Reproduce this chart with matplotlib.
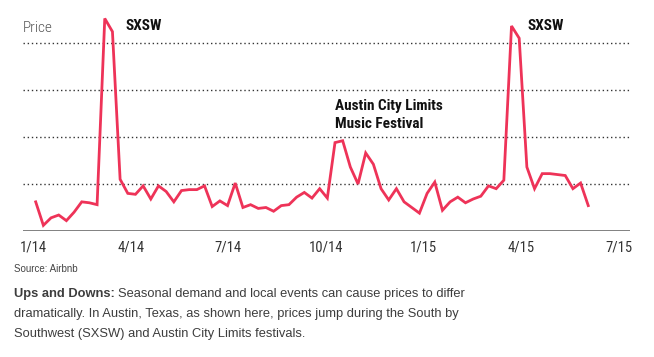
import numpy as np
import matplotlib.pyplot as plt

# weekly average price, Jan 2014 - May 2015
price = [131, 106, 114, 117, 111, 120, 131, 130, 128, 326, 312, 155, 140,
         139, 148, 134, 148, 142, 131, 143, 144, 144, 148, 126, 132, 127,
         151, 125, 128, 124, 125, 121, 127, 128, 136, 141, 135, 145, 135,
         194, 196, 168, 150, 183, 171, 145, 133, 145, 131, 125, 119, 140,
         152, 122, 131, 136, 130, 134, 137, 148, 145, 154, 318, 305, 168,
         145, 161, 161, 160, 159, 145, 151, 127]
month0 = 0.08   # first point, in months after 1/14
step = 0.2358   # months between points
months = month0 + step * np.arange(len(price))

tick_months = [0, 3, 6, 9, 12, 15, 18]
tick_labels = ['1/14', '4/14', '7/14', '10/14', '1/15', '4/15', '7/15']
grid_levels = [150, 200, 250, 300]

cond = dict(family=['Roboto Condensed', 'IBM Plex Sans Condensed', 'DejaVu Sans'])
W, H = 654, 357


def fx(px):
    return px / W


def fy(py):
    return 1 - py / H


fig = plt.figure(figsize=(6.54, 3.57), dpi=100)
ax = fig.add_axes([fx(23), fy(231), 607 / W, 221 / H])

for g in grid_levels:
    ax.axhline(g, color='#333333', lw=1.0, ls=(0, (1, 2)), zorder=1)
ax.axhline(100, color='#777777', lw=1.3, zorder=1)

ax.plot(months, price, color='#ee3358', lw=2.0, solid_joinstyle='miter', zorder=3)

ax.set_xlim(-0.31, 18.34)
ax.set_ylim(100, 335)
ax.set_yticks([])
ax.set_xticks(tick_months)
ax.set_xticklabels(tick_labels, color='#333333', fontsize=10.5, **cond)
ax.tick_params(axis='x', length=0, pad=7)
for s in ax.spines.values():
    s.set_visible(False)

fig.text(fx(23), fy(31.5), 'Price', color='#555555', fontsize=11,
         fontweight='light', va='baseline', ha='left', **cond)
fig.text(fx(125), fy(30), 'SXSW', color='#111111', fontsize=11,
         fontweight='bold', va='baseline', ha='left', **cond)
fig.text(fx(528), fy(30), 'SXSW', color='#111111', fontsize=11,
         fontweight='bold', va='baseline', ha='left', **cond)
fig.text(fx(335), fy(110), 'Austin City Limits', color='#111111', fontsize=11,
         fontweight='bold', va='baseline', ha='left', **cond)
fig.text(fx(335), fy(127.5), 'Music Festival', color='#111111', fontsize=11,
         fontweight='bold', va='baseline', ha='left', **cond)

fig.text(fx(14), fy(272.3), 'Source: Airbnb', color='#444444',
         fontsize=7, family='Liberation Sans', va='baseline', ha='left')

cap_col = '#3d3d3d'
cap_fs = 9.3
bold = fig.text(fx(14), fy(297.3), 'Ups and Downs:', color=cap_col,
                fontsize=cap_fs, fontweight='bold', family='Liberation Sans',
                va='baseline', ha='left')
r = fig.canvas.get_renderer()
bb = bold.get_window_extent(renderer=r)
fig.text(bb.x1 / fig.bbox.width + fx(3), fy(297.3),
         'Seasonal demand and local events can cause prices to differ',
         color=cap_col, fontsize=cap_fs, family='Liberation Sans',
         va='baseline', ha='left')
fig.text(fx(14), fy(317.3),
         'dramatically. In Austin, Texas, as shown here, prices jump during the South by',
         color=cap_col, fontsize=cap_fs, family='Liberation Sans',
         va='baseline', ha='left')
fig.text(fx(14), fy(337.3),
         'Southwest (SXSW) and Austin City Limits festivals.',
         color=cap_col, fontsize=cap_fs, family='Liberation Sans',
         va='baseline', ha='left')

fig.savefig('out.png', dpi=100)
